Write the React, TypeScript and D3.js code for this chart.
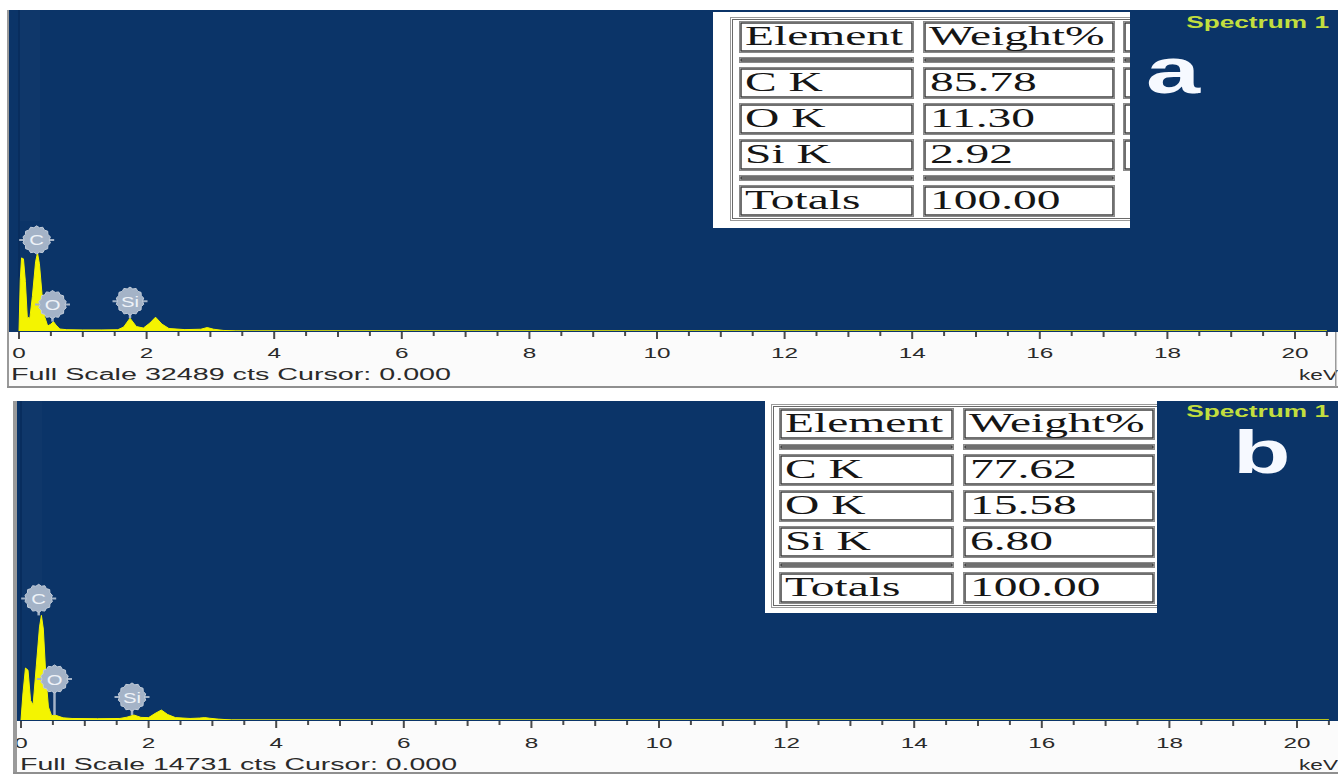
import React from "react";
import * as d3 from "d3";

// ---------- spectrum (a): energy in keV, intensity in counts ----------
const energyA = [0, 0.02, 0.04, 0.07, 0.1, 0.13, 0.17, 0.21, 0.26, 0.29, 0.32, 0.36, 0.4, 0.45, 0.5, 0.54, 0.58, 0.64, 0.75, 1.0, 1.3, 1.55, 1.64, 1.74, 1.84, 1.95, 2.05, 2.14, 2.24, 2.35, 2.6, 2.85, 2.95, 3.05, 3.2, 3.4, 20.5];
const countsA = [0, 5200, 7400, 7300, 5000, 1400, 1300, 3500, 7000, 7900, 6800, 3800, 1500, 500, 700, 950, 600, 200, 130, 110, 110, 130, 400, 1300, 450, 300, 800, 1400, 700, 250, 140, 180, 350, 180, 60, 0, 0];

// ---------- spectrum (b) ----------
const energyB = [0, 0.03, 0.07, 0.11, 0.15, 0.19, 0.24, 0.29, 0.32, 0.35, 0.39, 0.43, 0.48, 0.53, 0.58, 0.66, 0.8, 1.2, 1.55, 1.66, 1.77, 1.88, 2.0, 2.1, 2.2, 2.3, 2.42, 2.65, 2.8, 2.88, 2.96, 3.1, 3.3, 20.5];
const countsB = [0, 1200, 2400, 2300, 900, 700, 2500, 4300, 4830, 4200, 2000, 600, 200, 230, 180, 100, 70, 60, 70, 130, 230, 120, 110, 300, 460, 250, 110, 70, 90, 110, 80, 40, 0, 0];

const fullScaleA = 32489;
const fullScaleB = 14731;

// ---------- quantification tables ----------
const elementLines = ["C K", "O K", "Si K"];
const weightsA = [85.78, 11.3, 2.92];
const weightsB = [77.62, 15.58, 6.8];

// ---------- peak markers ----------
const markerSymbols = ["C", "O", "Si"];
const markerEnergies = [0.277, 0.525, 1.74];

// ---------- axis ----------
const tickLabels = d3.range(0, 21, 2);
const minorTicks = d3.range(0, 20.51, 0.5);

const SANS = "'Liberation Sans', Arial, sans-serif";
const SERIF = "'Liberation Serif', 'Times New Roman', serif";
const BG = "#0b3468";
const SPEC = "#f4f400";
const MARK = "#a4b3c7";

type Layout = {
  id: string;
  left: number;
  top: number;
  right: number;
  base: number;
  stripBottom: number;
  x0: number;
  x20: number;
  borderX: number;
  borderW: number;
  rightBorder: number | null;
  labelBase: number;
  footBase: number;
  footX0: number;
  footX1: number;
  tableX: number;
  tableY: number;
  boxX: number;
  boxY: number;
  boxR: number;
  boxB: number;
  outerX: number;
  thirdColumn: boolean;
  letter: string;
  letterX: number;
  letterBase: number;
  letterSize: number;
  titleBase: number;
  lifts: number[];
};

const layoutA: Layout = {
  id: "a",
  left: 8,
  top: 10,
  right: 1338,
  base: 331,
  stripBottom: 386,
  x0: 19,
  x20: 1295,
  borderX: 7,
  borderW: 2,
  rightBorder: 1335,
  labelBase: 358,
  footBase: 380,
  footX0: 11,
  footX1: 451,
  tableX: 739,
  tableY: 21,
  boxX: 713,
  boxY: 12,
  boxR: 1130,
  boxB: 228,
  outerX: 730,
  thirdColumn: true,
  letter: "a",
  letterX: 1146,
  letterBase: 93,
  letterSize: 64,
  titleBase: 28,
  lifts: [13, 17, 17],
};

const layoutB: Layout = {
  id: "b",
  left: 17,
  top: 401,
  right: 1338,
  base: 720,
  stripBottom: 772,
  x0: 21,
  x20: 1297,
  borderX: 13,
  borderW: 4,
  rightBorder: null,
  labelBase: 748,
  footBase: 770,
  footX0: 20,
  footX1: 457,
  tableX: 779,
  tableY: 408,
  boxX: 765,
  boxY: 400,
  boxR: 1157,
  boxB: 613,
  outerX: 771,
  thirdColumn: false,
  letter: "b",
  letterX: 1233,
  letterBase: 473,
  letterSize: 62,
  titleBase: 417,
  lifts: [17, 36, 18],
};

// table geometry
const colWidths = [175, 192, 60];
const colGaps = [9, 8];
const rowDefs = [
  { h: 32, kind: "head" },
  { h: 6, kind: "sep" },
  { h: 32, kind: "row", i: 0 },
  { h: 32, kind: "row", i: 1 },
  { h: 32, kind: "row", i: 2 },
  { h: 6, kind: "sep2" },
  { h: 32, kind: "total" },
];
const ROW_GAP = 4;

function gearPath(r: number) {
  const n = 14;
  const pts: [number, number][] = d3
    .range(n * 2)
    .map((i) => [(i * Math.PI) / n, i % 2 ? r : r + 1.6] as [number, number]);
  return d3.lineRadial().curve(d3.curveLinearClosed)(pts) || "";
}

function peakCount(E: number[], C: number[], e: number) {
  return d3.max(E.map((v, i) => (Math.abs(v - e) <= 0.06 ? C[i] : 0))) ?? 0;
}

function Cell({ x, y, w, h }: { x: number; y: number; w: number; h: number }) {
  return (
    <g>
      <rect x={x + 0.5} y={y + 0.5} width={w - 1} height={h - 1} fill="#fff" stroke="#8a8a8a" strokeWidth={1} />
      <rect x={x + 2} y={y + 2} width={w - 4} height={Math.max(h - 4, 1)} fill="none" stroke="#333" strokeWidth={1.4} />
    </g>
  );
}

function SerifText({ x, y, text }: { x: number; y: number; text: string }) {
  return (
    <text
      transform={`translate(${x},${y}) scale(1.76,1)`}
      fontFamily={SERIF}
      fontSize={27}
      fill="#151515"
    >
      {text}
    </text>
  );
}

function Table({ L, weights }: { L: Layout; weights: number[] }) {
  const colX = [L.tableX, L.tableX + colWidths[0] + colGaps[0]];
  colX.push(colX[1] + colWidths[1] + colGaps[1]);
  let yy = L.tableY;
  const rows = rowDefs.map((r) => {
    const top = yy;
    yy += r.h + ROW_GAP;
    return { ...r, top };
  });
  const tableBottom = yy;
  const total = d3.sum(weights);
  const clipId = `tclip-${L.id}`;
  return (
    <g>
      <defs>
        <clipPath id={clipId}>
          <rect x={L.boxX} y={L.boxY} width={L.boxR - L.boxX} height={L.boxB - L.boxY} />
        </clipPath>
      </defs>
      <rect x={L.boxX} y={L.boxY} width={L.boxR - L.boxX} height={L.boxB - L.boxY} fill="#fff" />
      <g clipPath={`url(#${clipId})`}>
        <rect x={L.outerX + 0.5} y={L.tableY - 3.5} width={L.boxR - L.outerX + 10} height={tableBottom - L.tableY + 3} fill="none" stroke="#9a9a9a" strokeWidth={1} />
        <rect x={L.outerX + 2.5} y={L.tableY - 1.5} width={L.boxR - L.outerX + 10} height={tableBottom - L.tableY - 1} fill="none" stroke="#6a6a6a" strokeWidth={1} />
        {rows.map((r, ri) => {
          const third = L.thirdColumn && ri < 5;
          return (
            <g key={ri}>
              <Cell x={colX[0]} y={r.top} w={colWidths[0]} h={r.h} />
              <Cell x={colX[1]} y={r.top} w={colWidths[1]} h={r.h} />
              {third && <Cell x={colX[2]} y={r.top} w={colWidths[2]} h={r.h} />}
              {r.kind === "head" && (
                <>
                  <SerifText x={colX[0] + 6} y={r.top + 24} text="Element" />
                  <SerifText x={colX[1] + 6} y={r.top + 24} text="Weight%" />
                </>
              )}
              {r.kind === "row" && (
                <>
                  <SerifText x={colX[0] + 6} y={r.top + 24} text={elementLines[r.i as number]} />
                  <SerifText x={colX[1] + 7} y={r.top + 24} text={weights[r.i as number].toFixed(2)} />
                </>
              )}
              {r.kind === "total" && (
                <>
                  <SerifText x={colX[0] + 6} y={r.top + 24} text="Totals" />
                  <SerifText x={colX[1] + 7} y={r.top + 24} text={total.toFixed(2)} />
                </>
              )}
            </g>
          );
        })}
      </g>
    </g>
  );
}

function Panel({
  L,
  energies,
  counts,
  fullScale,
  weights,
}: {
  L: Layout;
  energies: number[];
  counts: number[];
  fullScale: number;
  weights: number[];
}) {
  const x = d3.scaleLinear().domain([0, 20]).range([L.x0, L.x20]);
  const y = d3.scaleLinear().domain([0, fullScale]).range([L.base, L.top]);
  const pts = energies.map((e, i) => [e, counts[i]] as [number, number]);
  const areaPath =
    d3
      .area<[number, number]>()
      .x((d) => x(d[0]))
      .y0(L.base)
      .y1((d) => y(d[1]))(pts) || "";
  const plotClip = `pclip-${L.id}`;
  const panelClip = `wclip-${L.id}`;
  const r = 12.5;
  const gear = gearPath(r);

  return (
    <g>
      <defs>
        <clipPath id={plotClip}>
          <rect x={L.left} y={L.top} width={L.right - L.left} height={L.base - L.top} />
        </clipPath>
        <clipPath id={panelClip}>
          <rect x={L.left} y={L.top} width={L.right - L.left} height={L.stripBottom - L.top} />
        </clipPath>
      </defs>

      {/* plot background */}
      <rect x={L.left} y={L.top} width={L.right - L.left} height={L.base - L.top + 1} fill={BG} />
      {/* cursor at 0 keV */}
      <rect x={x(0) + 1} y={L.top} width={20} height={L.base - L.top - 110} fill="#ffffff" opacity={0.018} />
      <line x1={x(0)} x2={x(0)} y1={L.top} y2={L.base} stroke="#03214a" strokeWidth={1.5} opacity={0.4} />

      {/* spectrum */}
      <g clipPath={`url(#${plotClip})`}>
        <path d={areaPath} fill={SPEC} stroke={SPEC} strokeWidth={1} />
      </g>

      {/* peak markers */}
      {markerSymbols.map((s, i) => {
        const e = markerEnergies[i];
        const py = y(peakCount(energies, counts, e));
        const cx = x(e);
        const cy = py - L.lifts[i];
        return (
          <g key={s}>
            <line x1={cx} x2={cx} y1={cy + r} y2={py} stroke={MARK} strokeWidth={2.5} />
            <line x1={cx - r - 5} x2={cx + r + 5} y1={cy} y2={cy} stroke={MARK} strokeWidth={2} />
            <path d={gear} transform={`translate(${cx},${cy})`} fill={MARK} stroke="#c3cdda" strokeWidth={1} />
            <text
              transform={`translate(${cx},${cy + 5.5}) scale(1.35,1)`}
              textAnchor="middle"
              fontFamily={SANS}
              fontSize={15}
              fill="#eef2f8"
            >
              {s}
            </text>
          </g>
        );
      })}

      {/* axis strip */}
      <rect x={L.left} y={L.base + 1} width={L.right - L.left} height={L.stripBottom - L.base - 1} fill="#fbfbfb" />
      <g clipPath={`url(#${panelClip})`}>
        {minorTicks.map((t) => {
          const len = t % 2 === 0 ? 7 : t % 1 === 0 ? 5 : 4;
          return (
            <line
              key={t}
              x1={x(t)}
              x2={x(t)}
              y1={L.base + 1}
              y2={L.base + 1 + len}
              stroke="#4a4a4a"
              strokeWidth={2}
            />
          );
        })}
        {tickLabels.map((t) => (
          <text
            key={t}
            transform={`translate(${x(t)},${L.labelBase}) scale(1.62,1)`}
            textAnchor="middle"
            fontFamily={SANS}
            fontSize={15}
            fill="#2a2a2a"
          >
            {t}
          </text>
        ))}
        <text
          x={L.footX0}
          y={L.footBase}
          textLength={L.footX1 - L.footX0}
          lengthAdjust="spacingAndGlyphs"
          fontFamily={SANS}
          fontSize={16}
          fill="#2a2a2a"
        >
          {`Full Scale ${fullScale} cts Cursor: 0.000`}
        </text>
        <text
          x={1299}
          y={L.footBase}
          textLength={39}
          lengthAdjust="spacingAndGlyphs"
          fontFamily={SANS}
          fontSize={15}
          fill="#2a2a2a"
        >
          keV
        </text>
      </g>

      {/* panel frame */}
      <rect x={L.borderX} y={L.top} width={L.borderW} height={L.stripBottom - L.top + 1} fill="#9a9a9a" />
      <rect x={L.borderX} y={L.stripBottom} width={L.right - L.borderX} height={2} fill="#8f8f8f" />
      {L.rightBorder !== null && (
        <rect x={L.rightBorder} y={L.base + 1} width={1.5} height={L.stripBottom - L.base} fill="#9a9a9a" />
      )}

      {/* quantification table */}
      <Table L={L} weights={weights} />

      {/* header label and panel letter */}
      <text
        transform={`translate(1329,${L.titleBase}) scale(1.64,1)`}
        textAnchor="end"
        fontFamily={SANS}
        fontWeight="bold"
        fontSize={16}
        fill="#c2de3e"
      >
        Spectrum 1
      </text>
      <text
        transform={`translate(${L.letterX},${L.letterBase}) scale(1.52,1)`}
        fontFamily={SANS}
        fontWeight="bold"
        fontSize={L.letterSize}
        fill="#f6f9ff"
      >
        {L.letter}
      </text>
    </g>
  );
}

export default function App() {
  return (
    <svg
      width={1338}
      height={775}
      viewBox="0 0 1338 775"
      style={{ position: "absolute", left: 0, top: 0, background: "#fff", display: "block" }}
    >
      <rect x={0} y={0} width={1338} height={775} fill="#fff" />
      <Panel L={layoutA} energies={energyA} counts={countsA} fullScale={fullScaleA} weights={weightsA} />
      <Panel L={layoutB} energies={energyB} counts={countsB} fullScale={fullScaleB} weights={weightsB} />
    </svg>
  );
}
